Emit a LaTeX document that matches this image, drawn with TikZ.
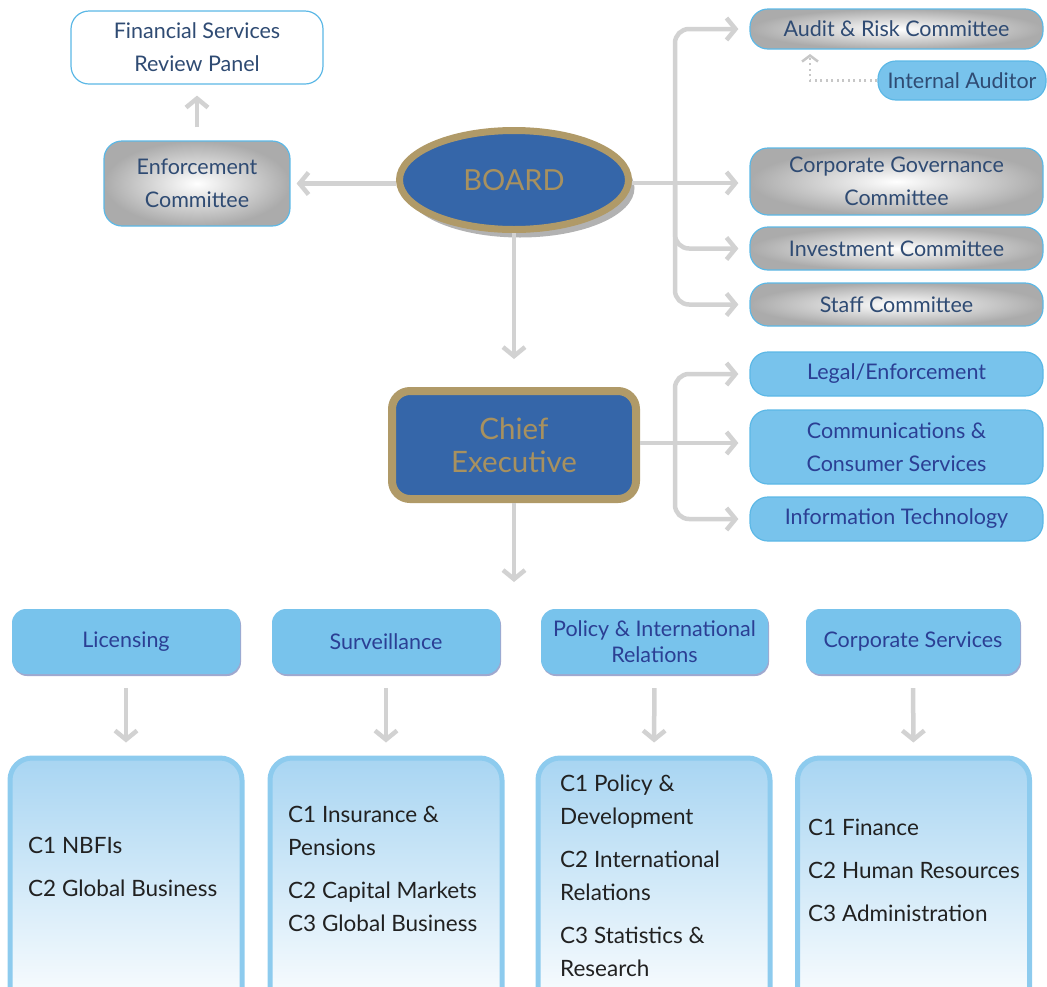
\documentclass[tikz,border=0pt]{standalone}
\usepackage{fontspec}
\setmainfont{Lato}
\usepackage{tikz}
\usetikzlibrary{positioning}
\usetikzlibrary{arrows.meta,shadows,shapes.geometric}

\definecolor{LinkGrey}{HTML}{D2D2D2}
\definecolor{EdgeBlue}{HTML}{5CB8E6}
\definecolor{BoxBlue}{HTML}{78C3EC}
\definecolor{InkBlue}{HTML}{2F4B73}
\definecolor{DeptInk}{HTML}{2B3F94}
\definecolor{Gold}{HTML}{B09A68}
\definecolor{GoldInk}{HTML}{A8915F}
\definecolor{RoyalBlue}{HTML}{3566A9}
\definecolor{UnitEdge}{HTML}{8DCBEE}
\definecolor{UnitTop}{HTML}{A8D5F2}

\newcommand{\boxfont}{\fontsize{21.5}{33}\selectfont}

\tikzset{
	conn/.style={draw=LinkGrey, line width=4.5pt, rounded corners=14pt,
		-{Straight Barb[length=9pt,width=22pt]}},
	whitebox/.style={rectangle, rounded corners=18pt, draw=EdgeBlue, line width=1.2pt,
		fill=white, text=InkBlue, align=center, font=\boxfont},
	greybox/.style={rectangle, rounded corners=18pt, draw=EdgeBlue, line width=1.2pt,
		inner color=white, outer color=black!33, text=InkBlue, align=center, font=\boxfont},
	bluebox/.style={rectangle, rounded corners=18pt, draw=EdgeBlue, line width=1.2pt,
		fill=BoxBlue, text=DeptInk, align=center, font=\boxfont},
	deptbox/.style={rectangle, rounded corners=14pt, fill=BoxBlue, text=DeptInk,
		align=center, font=\fontsize{21.5}{26}\selectfont, minimum height=65,
		drop shadow={shadow xshift=1pt, shadow yshift=-2pt, opacity=0.45, fill=DeptInk}},
	unitbox/.style={rectangle, rounded corners=22pt, draw=UnitEdge, line width=5pt,
		top color=UnitTop, bottom color=white, minimum width=232, minimum height=260},
	unittext/.style={anchor=north west, inner sep=0pt, align=left, text=black!87,
		font=\fontsize{22.5}{33}\selectfont},
}

\begin{document}
\begin{tikzpicture}[x=1pt,y=-1pt]
	\clip (0,0) rectangle (1047,986);

	%Board and chief executive
	\node[ellipse, minimum width=229, minimum height=99, fill=RoyalBlue, draw=Gold,
		line width=7pt, text=GoldInk, font=\fontsize{29}{34}\selectfont,
		drop shadow={shadow xshift=6pt, shadow yshift=-8pt, opacity=0.3, fill=black}]
		(Board) at (514,180) {BOARD};
	\node[rectangle, rounded corners=18pt, minimum width=244, minimum height=108,
		fill=RoyalBlue, draw=Gold, line width=8pt, text=GoldInk, align=center,
		font=\fontsize{29.5}{33}\selectfont] (CE) at (514,445) {Chief\\Executive};

	%Left of board
	\node[whitebox, minimum width=252, minimum height=73] (FSRP) at (197,47.5) {Financial Services\\Review Panel};
	\node[greybox, minimum width=186, minimum height=85] (EnfC) at (197,183.5) {Enforcement\\Committee};

	%Board committees
	\node[greybox, minimum width=293, minimum height=40] (AudC) at (896.5,29) {Audit \& Risk Committee};
	\node[bluebox, minimum width=168, minimum height=39, text=InkBlue] (IntA) at (962,80.5) {Internal Auditor};
	\node[greybox, minimum width=293, minimum height=67] (CGC) at (896.5,181.5) {Corporate Governance\\Committee};
	\node[greybox, minimum width=293, minimum height=43] (InvC) at (896.5,248.5) {Investment Committee};
	\node[greybox, minimum width=293, minimum height=43] (StaffC) at (896.5,304.5) {Staff Committee};

	%Chief executive offices
	\node[bluebox, minimum width=293, minimum height=44] (Legal) at (896.5,374) {Legal/Enforcement};
	\node[bluebox, minimum width=293, minimum height=74] (Comms) at (896.5,447) {Communications \&\\Consumer Services};
	\node[bluebox, minimum width=293, minimum height=44] (IT) at (896.5,519) {Information Technology};

	%Departments
	\node[deptbox, minimum width=228] (Lic) at (126,641.5) {Licensing};
	\node[deptbox, minimum width=228] (Surv) at (386,641.5) {Surveillance};
	\node[deptbox, minimum width=227] (Pol) at (654.5,641.5) {Policy \& International\\Relations};
	\node[deptbox, minimum width=214] (Corp) at (913,641.5) {Corporate Services};

	%Clusters
	\node[unitbox] (LicU) at (126,888) {};
	\node[unitbox] (SurvU) at (386,888) {};
	\node[unitbox] (PolU) at (654,888) {};
	\node[unitbox] (CorpU) at (913.5,888) {};

	\node[unittext] (LicT) at (28,837) {C1 NBFIs\\[10pt]C2 Global Business};
	\node[unittext] (SurvT) at (288,806) {C1 Insurance \&\\Pensions\\[10pt]C2 Capital Markets\\C3 Global Business};
	\node[unittext] (PolT) at (560,775) {C1 Policy \&\\Development\\[10pt]C2 International\\Relations\\[10pt]C3 Statistics \&\\Research};
	\node[unittext] (CorpT) at (808,819) {C1 Finance\\[10pt]C2 Human Resources\\[10pt]C3 Administration};

	%Junctions
	\coordinate (BJ) at (675,183);
	\coordinate (CJ) at (675,443);
	\coordinate (DeptTop) at (514,582);
	\coordinate (IAup) at (810,49);

	%Connectors
	\draw[conn, shorten >=6pt] (Board.west |- EnfC) -- (EnfC.east);
	\draw[conn, shorten <=13pt, shorten >=11pt] (EnfC.north) -- (FSRP.south);
	\draw[draw=LinkGrey, line width=4.5pt] (Board.east |- BJ) -- (BJ);
	\draw[conn, shorten >=11pt] (BJ) |- (AudC.west);
	\draw[conn, shorten >=11pt] (BJ) -- (BJ -| CGC.west);
	\draw[conn, shorten >=11pt] (BJ) |- (InvC.west);
	\draw[conn, shorten >=11pt] (BJ) |- (StaffC.west);
	\draw[draw=LinkGrey!95!black, line width=2.5pt, dash pattern=on 2pt off 3.5pt,
		-{Straight Barb[length=6pt,width=16pt]}, shorten >=5pt] (IntA.west) -| (IAup);
	\draw[conn, shorten >=28pt] (Board.south) -- (CE.north);
	\draw[draw=LinkGrey, line width=4.5pt] (CE.east |- CJ) -- (CJ);
	\draw[conn, shorten >=11pt] (CJ) |- (Legal.west);
	\draw[conn, shorten >=11pt] (CJ) -- (CJ -| Comms.west);
	\draw[conn, shorten >=11pt] (CJ) |- (IT.west);
	\draw[conn] (CE.south) -- (DeptTop);
	\foreach \d in {Lic, Surv, Pol, Corp}
		\draw[conn, shorten <=14pt, shorten >=13pt] (\d.south) -- (\d U.north);
\end{tikzpicture}
\end{document}
